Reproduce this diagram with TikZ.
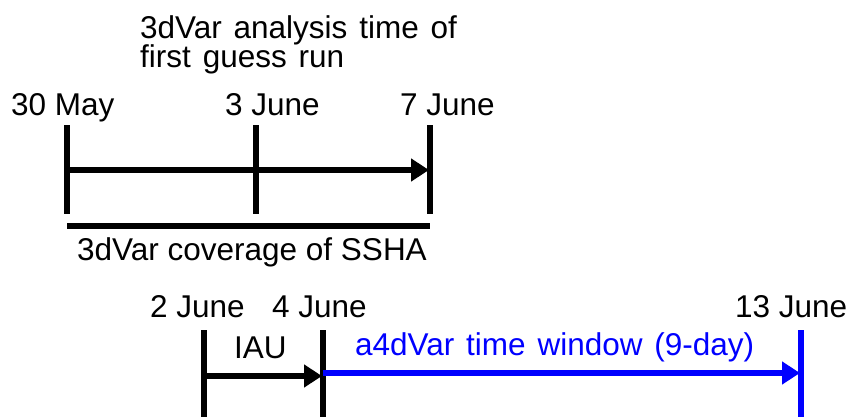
\documentclass[tikz,border=0pt]{standalone}
\usepackage{fontspec}
\setmainfont{Liberation Sans}
\newfontfamily\widefont{Liberation Sans}[WordSpace=1.35]
\usetikzlibrary{arrows.meta,positioning}

\tikzset{
  datelbl/.style={anchor=base west, inner sep=0pt, font=\fontsize{31.5}{29}\selectfont},
  phrase/.style={datelbl, font=\widefont\fontsize{31.5}{29}\selectfont},
  daytick/.style={line width=6pt},
  spanarrow/.style={line width=6pt, -{Triangle[length=18pt,width=22pt]}},
}

\begin{document}
\begin{tikzpicture}[x=1pt, y=-1pt]
    \useasboundingbox (0,0) rectangle (861,417);
    % 3dVar first guess run
    \node[phrase] (guess) at (140,39) {3dVar analysis time of};
    \node[phrase] (guess2) at (140,68) {first guess run};
    \node[datelbl] (may30) at (11,116) {30 May};
    \node[datelbl] (jun3) at (225,116) {3 June};
    \node[datelbl] (jun7) at (400,116) {7 June};
    \foreach \n/\x in {may30/67, jun3/256, jun7/430} {
      \coordinate (\n top) at (\x,125);
      \coordinate (\n bot) at (\x,214);
      \draw[daytick] (\n top) -- (\n bot);
    }
    \coordinate (runstart) at (67,170);
    \coordinate (runend) at (429,170);
    \draw[spanarrow] (runstart) -- (runend);
    \coordinate (ssha0) at (67,226);
    \coordinate (ssha1) at (430,226);
    \draw[daytick] (ssha0) -- (ssha1);
    \node[datelbl] (cover) at (77,260) {3dVar coverage of SSHA};
    % IAU and a4dVar window
    \node[datelbl] (jun2) at (150,317) {2 June};
    \node[datelbl] (jun4) at (272,317) {4 June};
    \node[datelbl] (jun13) at (735,317) {13 June};
    \foreach \n/\x/\c in {jun2/204/black, jun4/323/black, jun13/801/blue} {
      \coordinate (\n top) at (\x,330);
      \coordinate (\n bot) at (\x,417);
      \draw[daytick, \c] (\n top) -- (\n bot);
    }
    \node[phrase] (iau) at (234,358) {IAU};
    \node[phrase, text=blue] (window) at (355,355) {a4dVar time window (9-day)};
    \coordinate (iau0) at (204,376);
    \coordinate (iau1) at (322,376);
    \draw[spanarrow] (iau0) -- (iau1);
    \coordinate (win0) at (323,373);
    \coordinate (win1) at (800,373);
    \draw[spanarrow, blue] (win0) -- (win1);
\end{tikzpicture}
\end{document}
